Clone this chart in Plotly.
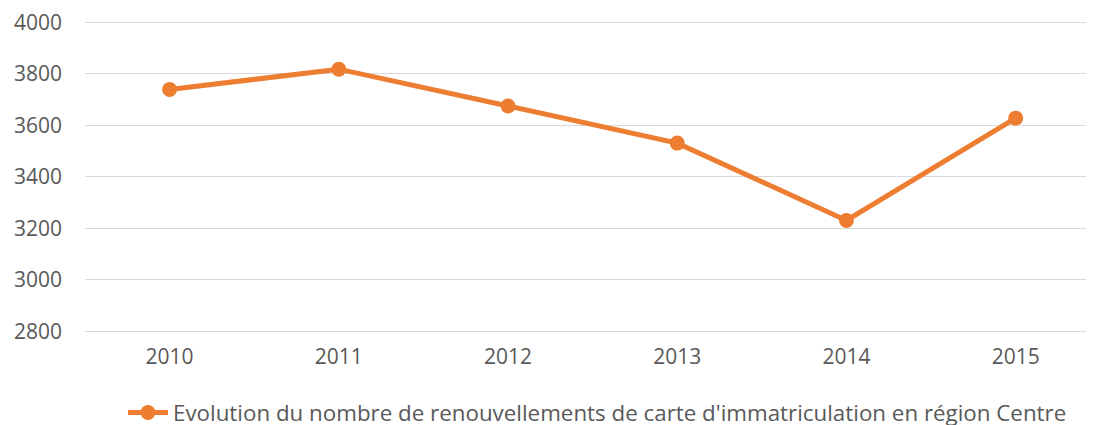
import plotly.graph_objects as go

years = ["2010", "2011", "2012", "2013", "2014", "2015"]
values = [3739, 3818, 3675, 3531, 3231, 3628]
series_name = "Evolution du nombre de renouvellements de carte d'immatriculation en région Centre"
y_ticks = [2800, 3000, 3200, 3400, 3600, 3800, 4000]

W, H = 1086, 417  # page body has 8px default margin

fig = go.Figure()
fig.add_trace(go.Scatter(
    x=years, y=values, mode="lines+markers", name=series_name,
    line=dict(color="#ED7D31", width=5),
    marker=dict(color="#ED7D31", size=15),
))

fig.update_layout(
    width=W, height=H,
    margin=dict(l=77, r=0, t=13, b=92, autoexpand=False),
    paper_bgcolor="white", plot_bgcolor="white",
    font=dict(family="Open Sans", color="#595959", size=21),
    showlegend=True,
    legend=dict(orientation="h", x=589.5 / W, xanchor="center", xref="container",
                y=12 / H, yanchor="middle", yref="container",
                font=dict(size=22.35, color="#595959"), itemwidth=40),
    xaxis=dict(type="category", range=[-0.5, 5.463], showgrid=False, showline=False,
               zeroline=False, ticks="", tickfont=dict(size=21), ticklabelstandoff=9),
    yaxis=dict(range=[2794, 4005], tickvals=y_ticks, showgrid=True, gridcolor="#D9D9D9",
               gridwidth=1.3, zeroline=False, showline=False, ticks="",
               ticklabelstandoff=22, tickfont=dict(size=21), ticklabeloverflow="allow"),
)

fig.write_html("out.html")
